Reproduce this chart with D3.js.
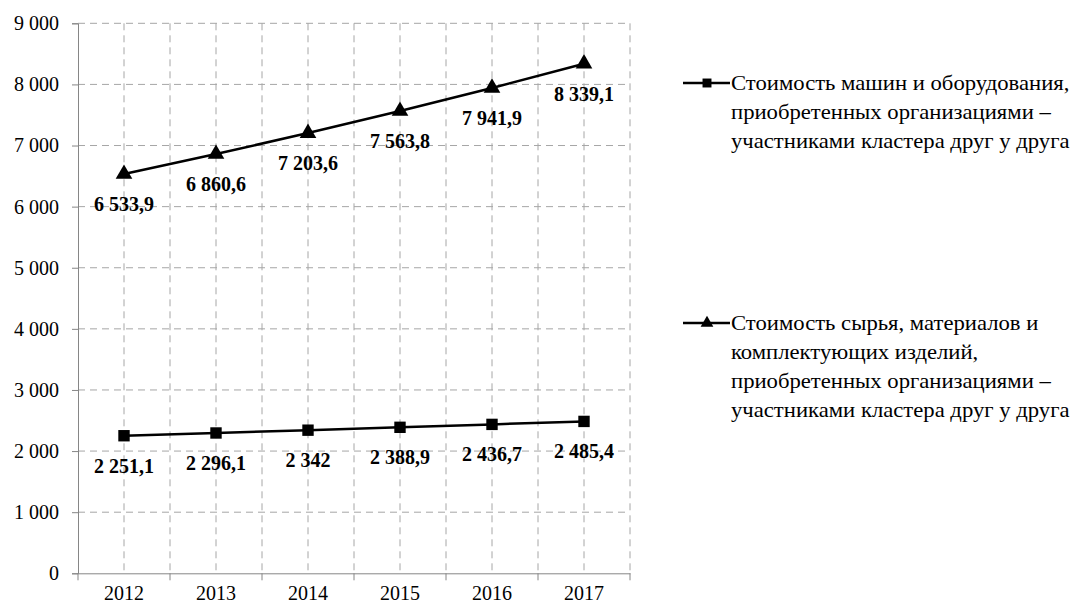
<!DOCTYPE html>
<html>
<head>
<meta charset="utf-8">
<script src="https://cdn.jsdelivr.net/npm/d3@7"></script>
<style>
  body { margin: 0; background: #fff; }
  svg text { font-family: "Liberation Serif", "DejaVu Serif", serif !important; }
</style>
</head>
<body>
<div id="chart"></div>
<script>
// Data
const years = ["2012", "2013", "2014", "2015", "2016", "2017"];
const squareValues = [2251.1, 2296.1, 2342, 2388.9, 2436.7, 2485.4];
const triangleValues = [6533.9, 6860.6, 7203.6, 7563.8, 7941.9, 8339.1];
const yTicks = [0, 1000, 2000, 3000, 4000, 5000, 6000, 7000, 8000, 9000];
const legendSquare = ["Стоимость машин и оборудования,", "приобретенных организациями –", "участниками кластера друг у друга"];
const legendTriangle = ["Стоимость сырья, материалов и", "комплектующих изделий,", "приобретенных организациями –", "участниками кластера друг у друга"];

const width = 1092;
const height = 607;
const plot = {left: 78, right: 630, top: 23.3, bottom: 573.3};
const serif = "Liberation Serif";

const locale = d3.formatLocale({decimal: ",", thousands: "\u00a0", grouping: [3], currency: ["", ""]});
const fmtTick = locale.format(",");
const fmtLabel = locale.format(",~f");

const svg = d3.select("#chart")
    .append("svg")
    .attr("width", width)
    .attr("height", height)
    .attr("font-family", serif);

svg.append("rect").attr("width", width).attr("height", height).attr("fill", "#fff");

const xScale = d3.scaleBand()
    .domain(years)
    .range([plot.left, plot.right]);

const yScale = d3.scaleLinear()
    .domain([0, 9000])
    .range([plot.bottom, plot.top]);

const cx = d => xScale(d) + xScale.bandwidth() / 2;

// Grid lines
const grid = svg.append("g")
    .attr("stroke", "#a6a6a6")
    .attr("stroke-width", 1)
    .attr("stroke-dasharray", "7,5");

grid.selectAll("line.h")
    .data(yTicks.slice(1))
    .enter()
    .append("line")
    .attr("x1", plot.left)
    .attr("x2", plot.right)
    .attr("y1", d => yScale(d))
    .attr("y2", d => yScale(d));

const vLines = years.map(cx).concat(years.slice(1).map(d => xScale(d)), [plot.right]);
grid.selectAll("line.v")
    .data(vLines)
    .enter()
    .append("line")
    .attr("x1", d => d)
    .attr("x2", d => d)
    .attr("y1", plot.top)
    .attr("y2", plot.bottom);

// Y axis
const yAxis = svg.append("g")
    .attr("transform", `translate(${plot.left},0)`)
    .call(d3.axisLeft(yScale).tickValues(yTicks).tickSize(6).tickPadding(13).tickFormat(fmtTick))
    .attr("font-family", serif)
    .attr("font-size", 20);
yAxis.select(".domain").attr("stroke", "#868686");
yAxis.selectAll(".tick line").attr("stroke", "#868686");
yAxis.selectAll("text").attr("fill", "#000");

// X axis
const xAxis = svg.append("g")
    .attr("transform", `translate(0,${plot.bottom})`)
    .call(d3.axisBottom(xScale).tickSize(0).tickPadding(13))
    .attr("font-family", serif)
    .attr("font-size", 20);
xAxis.select(".domain").attr("stroke", "#868686");
xAxis.selectAll("text").attr("fill", "#000");
xAxis.selectAll("line.bt")
    .data([plot.left].concat(years.slice(1).map(d => xScale(d)), [plot.right]))
    .enter()
    .append("line")
    .attr("x1", d => d)
    .attr("x2", d => d)
    .attr("y1", 0)
    .attr("y2", 7)
    .attr("stroke", "#868686");

const line = d3.line()
    .x((d, i) => cx(years[i]))
    .y(d => yScale(d));

function drawSeries(values, shape) {
    svg.append("path")
        .datum(values)
        .attr("d", line)
        .attr("fill", "none")
        .attr("stroke", "#000")
        .attr("stroke-width", 2.5);

    svg.selectAll(null)
        .data(values)
        .enter()
        .append("path")
        .attr("transform", (d, i) => `translate(${cx(years[i])},${yScale(d)})`)
        .attr("d", d3.symbol().type(shape).size(shape === d3.symbolSquare ? 130 : 120))
        .attr("fill", "#000");

    svg.selectAll(null)
        .data(values)
        .enter()
        .append("text")
        .attr("x", (d, i) => cx(years[i]))
        .attr("y", d => yScale(d) + 30)
        .attr("dy", "0.35em")
        .attr("text-anchor", "middle")
        .attr("font-size", 20)
        .attr("font-weight", "bold")
        .text(d => fmtLabel(d));
}

drawSeries(squareValues, d3.symbolSquare);
drawSeries(triangleValues, d3.symbolTriangle);

// Legend
function drawLegend(lines, shape, y0) {
    const g = svg.append("g");
    g.append("line")
        .attr("x1", 683).attr("x2", 730)
        .attr("y1", y0).attr("y2", y0)
        .attr("stroke", "#000")
        .attr("stroke-width", 2.5);
    g.append("path")
        .attr("transform", `translate(707,${y0})`)
        .attr("d", d3.symbol().type(shape).size(shape === d3.symbolSquare ? 80 : 70))
        .attr("fill", "#000");
    g.append("g")
        .attr("transform", "translate(731,0) scale(1.08,1)")
        .selectAll("text")
        .data(lines)
        .enter()
        .append("text")
        .attr("x", 0)
        .attr("y", (d, i) => y0 + i * 29)
        .attr("dy", "0.35em")
        .attr("font-size", 21)
        .text(d => d);
}

drawLegend(legendSquare, d3.symbolSquare, 83);
drawLegend(legendTriangle, d3.symbolTriangle, 323);
</script>
</body>
</html>
